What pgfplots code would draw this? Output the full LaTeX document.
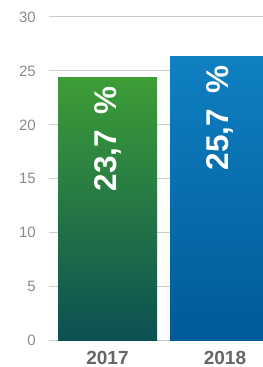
\documentclass[border=0pt]{standalone}
\usepackage{fontspec}
\setmainfont{Liberation Sans}
\usepackage{pgfplots}
\pgfplotsset{compat=1.18}
\definecolor{gridc}{HTML}{CCCCCC}
\definecolor{tickc}{HTML}{8A8A8A}
\definecolor{xlabc}{HTML}{666666}
\definecolor{gtop}{HTML}{3D9D36}
\definecolor{gbot}{HTML}{0B5053}
\definecolor{btop}{HTML}{0F80C1}
\definecolor{bmid}{HTML}{005D9A}
\definecolor{bbot}{HTML}{005A97}
\begin{document}
\begin{tikzpicture}
\begin{axis}[
  at={(49bp,26.3bp)}, anchor=south west,
  scale only axis, width=214bp, height=323.7bp,
  xmin=49, xmax=263, ymin=0, ymax=30,
  ytick={0,5,...,30},
  xtick={107.5,225}, xticklabels={2017,2018},
  ymajorgrids, grid style={gridc, line width=1bp},
  axis line style={draw=none}, major tick length=0pt,
  /pgf/number format/assume math mode=true,
  yticklabel style={font=\fontsize{15bp}{15bp}\selectfont, text=tickc, anchor=east, inner sep=0pt, xshift=-13bp},
  xticklabel style={font=\bfseries\fontsize{19bp}{19bp}\selectfont, text=xlabc, anchor=base, inner sep=0pt, yshift=-23.3bp},
  clip=true,
]
\addplot[ybar, bar width=99, bar shift=0pt, draw=none, top color=gtop, bottom color=gbot,
  nodes near coords={23,7\hspace{0.5em}\%},
  every node near coord/.append style={yshift=-8bp, rotate=90, anchor=east, text=white, inner sep=0pt, font=\bfseries\fontsize{31.5bp}{31.5bp}\selectfont}]
  coordinates {(107.5,24.35)};
\addplot[ybar, bar width=99, bar shift=0pt, draw=none, top color=btop, middle color=bmid, bottom color=bbot,
  nodes near coords={25,7\hspace{0.5em}\%},
  every node near coord/.append style={yshift=-8bp, rotate=90, anchor=east, text=white, inner sep=0pt, font=\bfseries\fontsize{31.5bp}{31.5bp}\selectfont}]
  coordinates {(219.5,26.3)};
\end{axis}
\pgfresetboundingbox
\useasboundingbox (0,0) rectangle (263bp,367bp);
\end{tikzpicture}
\end{document}
